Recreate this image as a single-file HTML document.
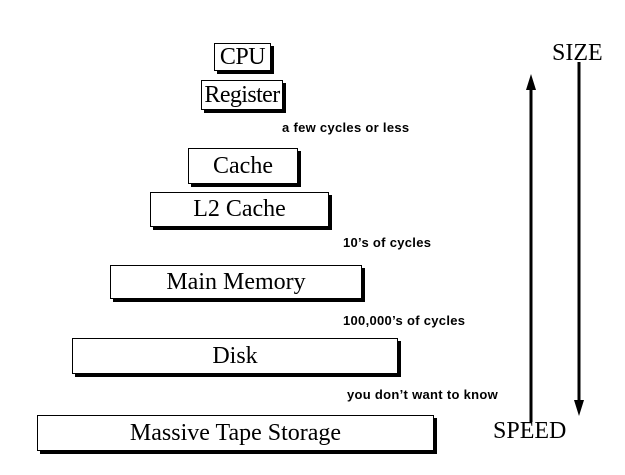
<!DOCTYPE html>
<html><head><style>
body{margin:0;width:625px;height:475px;background:#fff;position:relative;overflow:hidden}
.b{position:absolute;border:1px solid #000;box-shadow:3px 3px 0 #000;background:#fff;box-sizing:border-box;font-family:"Liberation Serif",serif;font-size:24px;text-align:center;color:#000;white-space:nowrap}
.l{position:absolute;font-family:"Liberation Sans",sans-serif;font-weight:bold;font-size:13px;letter-spacing:0.3px;white-space:nowrap}
.t{position:absolute;font-family:"Liberation Serif",serif;font-size:24px}
</style></head><body>
<div class="b" style="left:214px;top:43px;width:57px;height:28px;line-height:26px;letter-spacing:-0.5px">CPU</div>
<div class="b" style="left:201px;top:80px;width:82px;height:30px;line-height:28px;letter-spacing:-0.6px">Register</div>
<div class="l" style="left:282px;top:120px">a few cycles or less</div>
<div class="b" style="left:188px;top:148px;width:110px;height:36px;line-height:34px">Cache</div>
<div class="b" style="left:150px;top:192px;width:179px;height:35px;line-height:33px">L2 Cache</div>
<div class="l" style="left:343px;top:235px">10’s of cycles</div>
<div class="b" style="left:110px;top:265px;width:252px;height:34px;line-height:32px">Main Memory</div>
<div class="l" style="left:343px;top:313px">100,000’s of cycles</div>
<div class="b" style="left:72px;top:338px;width:326px;height:36px;line-height:34px">Disk</div>
<div class="l" style="left:347px;top:387px">you don’t want to know</div>
<div class="b" style="left:37px;top:415px;width:397px;height:36px;line-height:34px">Massive Tape Storage</div>
<div class="t" style="left:552px;top:40px">SIZE</div>
<div class="t" style="left:493px;top:418px">SPEED</div>
<svg width="625" height="475" style="position:absolute;left:0;top:0">
<line x1="531" y1="422" x2="531" y2="88" stroke="#000" stroke-width="3"/>
<polygon points="531,74 526,90 536,90" fill="#000"/>
<line x1="579" y1="62" x2="579" y2="402" stroke="#000" stroke-width="3"/>
<polygon points="579,416 574,400 584,400" fill="#000"/>
</svg>
</body></html>
